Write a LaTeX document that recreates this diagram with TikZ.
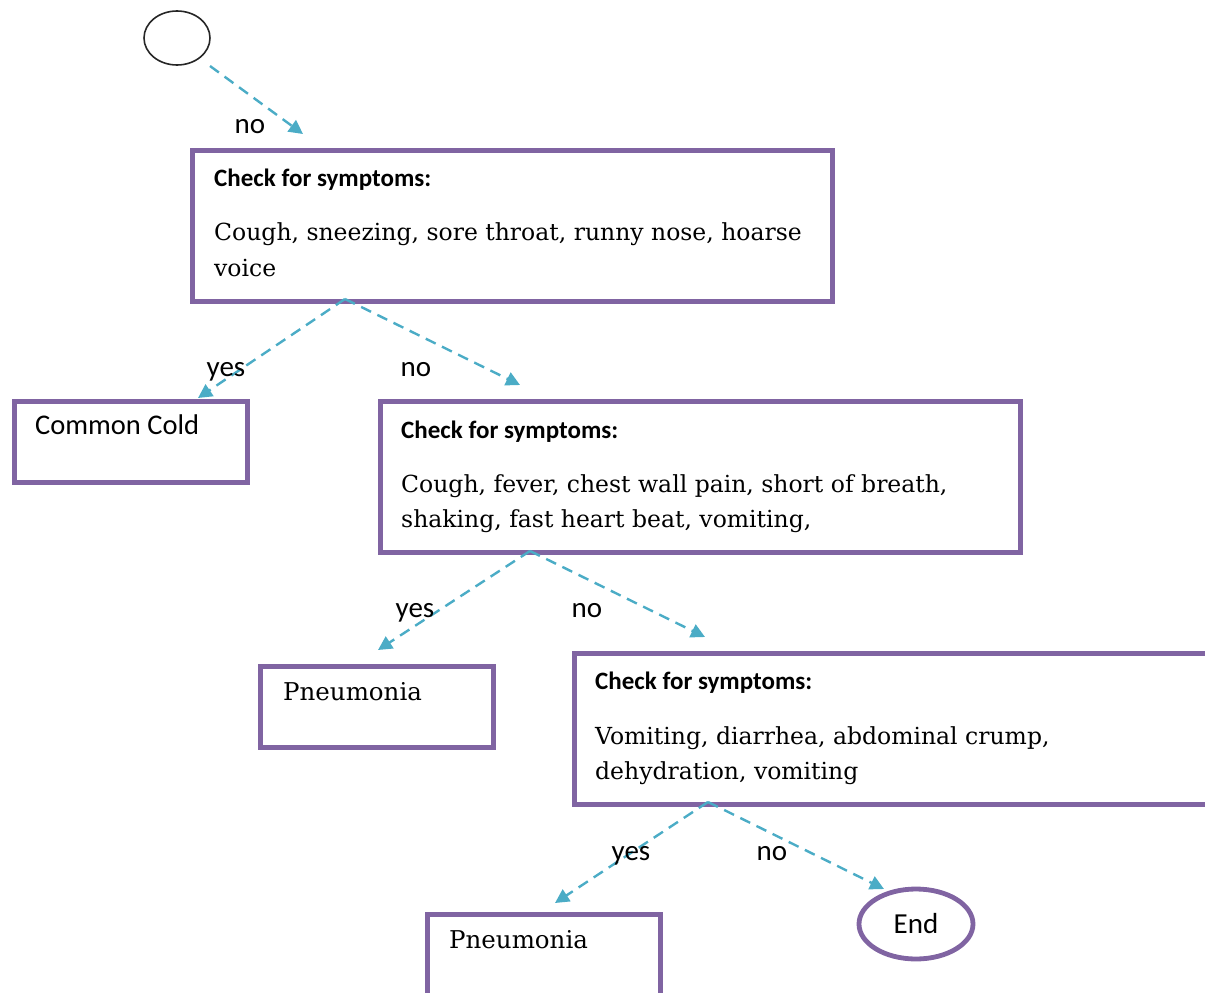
\documentclass[tikz,border=0pt]{standalone}
\usepackage{fontspec}
\setmainfont{DejaVu Serif}
\newfontfamily\labelfont{Carlito}
\usetikzlibrary{arrows.meta,shapes.geometric}
\definecolor{boxpurple}{HTML}{8064A2}
\definecolor{flowcyan}{HTML}{4BACC6}

\begin{document}
\begin{tikzpicture}[x=1pt,y=-1pt,
  box/.style={draw=boxpurple,line width=4.8pt,rectangle,minimum width=640pt,
    minimum height=151pt,anchor=north west,inner sep=0pt},
  smallbox/.style={box,minimum width=233pt,minimum height=81pt},
  head/.style={font=\labelfont\bfseries\fontsize{25}{30}\selectfont,anchor=base west,inner sep=0pt},
  body/.style={font=\fontsize{23.5}{36}\selectfont,anchor=base west,inner sep=0pt},
  sanstext/.style={font=\labelfont\fontsize{28.5}{34}\selectfont,anchor=base west,inner sep=0pt},
  branch/.style={font=\labelfont\fontsize{29}{34}\selectfont,anchor=base,inner sep=0pt},
  flow/.style={draw=flowcyan,line width=2.4pt,dash pattern=on 11pt off 7pt,
    -{Triangle[length=14pt,width=14pt]}}
]
\useasboundingbox (0,0) rectangle (1205,993);

% start and end terminals
\node[draw=black!85,line width=1.6pt,ellipse,minimum width=66pt,minimum height=54pt,inner sep=0pt] (start) at (177,38) {};
\node[draw=boxpurple,line width=4.8pt,ellipse,minimum width=114pt,minimum height=70pt,inner sep=0pt,
  font=\labelfont\fontsize{29}{34}\selectfont] (end) at (916,924) {End};

% decision boxes
\node[box] (b1) at (190,148) {};
\node[head] (b1h) at (214,186) {Check for symptoms:};
\node[body] (b1a) at (214,240) {Cough, sneezing, sore throat, runny nose, hoarse};
\node[body] (b1b) at (214,276) {voice};

\node[box] (b2) at (378,399) {};
\node[head] (b2h) at (401,438) {Check for symptoms:};
\node[body] (b2a) at (401,492) {Cough, fever, chest wall pain, short of breath,};
\node[body] (b2b) at (401,527) {shaking, fast heart beat, vomiting,};

\node[box] (b3) at (572,651) {};
\node[head] (b3h) at (595,689) {Check for symptoms:};
\node[body] (b3a) at (595,744) {Vomiting, diarrhea, abdominal crump,};
\node[body] (b3b) at (595,779) {dehydration, vomiting};

% outcome boxes
\node[smallbox] (r1) at (12,399) {};
\node[sanstext] (r1t) at (35,434) {Common Cold};
\node[smallbox] (r2) at (258,664) {};
\node[body,font=\fontsize{24.5}{30}\selectfont] (r2t) at (283,700) {Pneumonia};
\node[smallbox] (r3) at (425,912) {};
\node[body,font=\fontsize{24.5}{30}\selectfont] (r3t) at (449,948) {Pneumonia};

% connector end points
\coordinate (s0) at (210,66);   \coordinate (t0) at (303,134);
\coordinate (s1) at (345,299);  \coordinate (t1y) at (198,398); \coordinate (t1n) at (520,385);
\coordinate (s2) at (530,551);  \coordinate (t2y) at (378,650); \coordinate (t2n) at (705,637);
\coordinate (s3) at (708,802);  \coordinate (t3y) at (555,903); \coordinate (t3n) at (884,889);

\draw[flow] (s0) -- (t0);
\draw[flow] (s1) -- (t1y);
\draw[flow] (s1) -- (t1n);
\draw[flow] (s2) -- (t2y);
\draw[flow] (s2) -- (t2n);
\draw[flow] (s3) -- (t3y);
\draw[flow] (s3) -- (t3n);

% branch labels
\node[branch] (l0) at (250,133) {no};
\node[branch] (l1y) at (226,376) {yes};
\node[branch] (l1n) at (416,376) {no};
\node[branch] (l2y) at (415,617) {yes};
\node[branch] (l2n) at (587,617) {no};
\node[branch] (l3y) at (631,860) {yes};
\node[branch] (l3n) at (772,860) {no};
\end{tikzpicture}
\end{document}
